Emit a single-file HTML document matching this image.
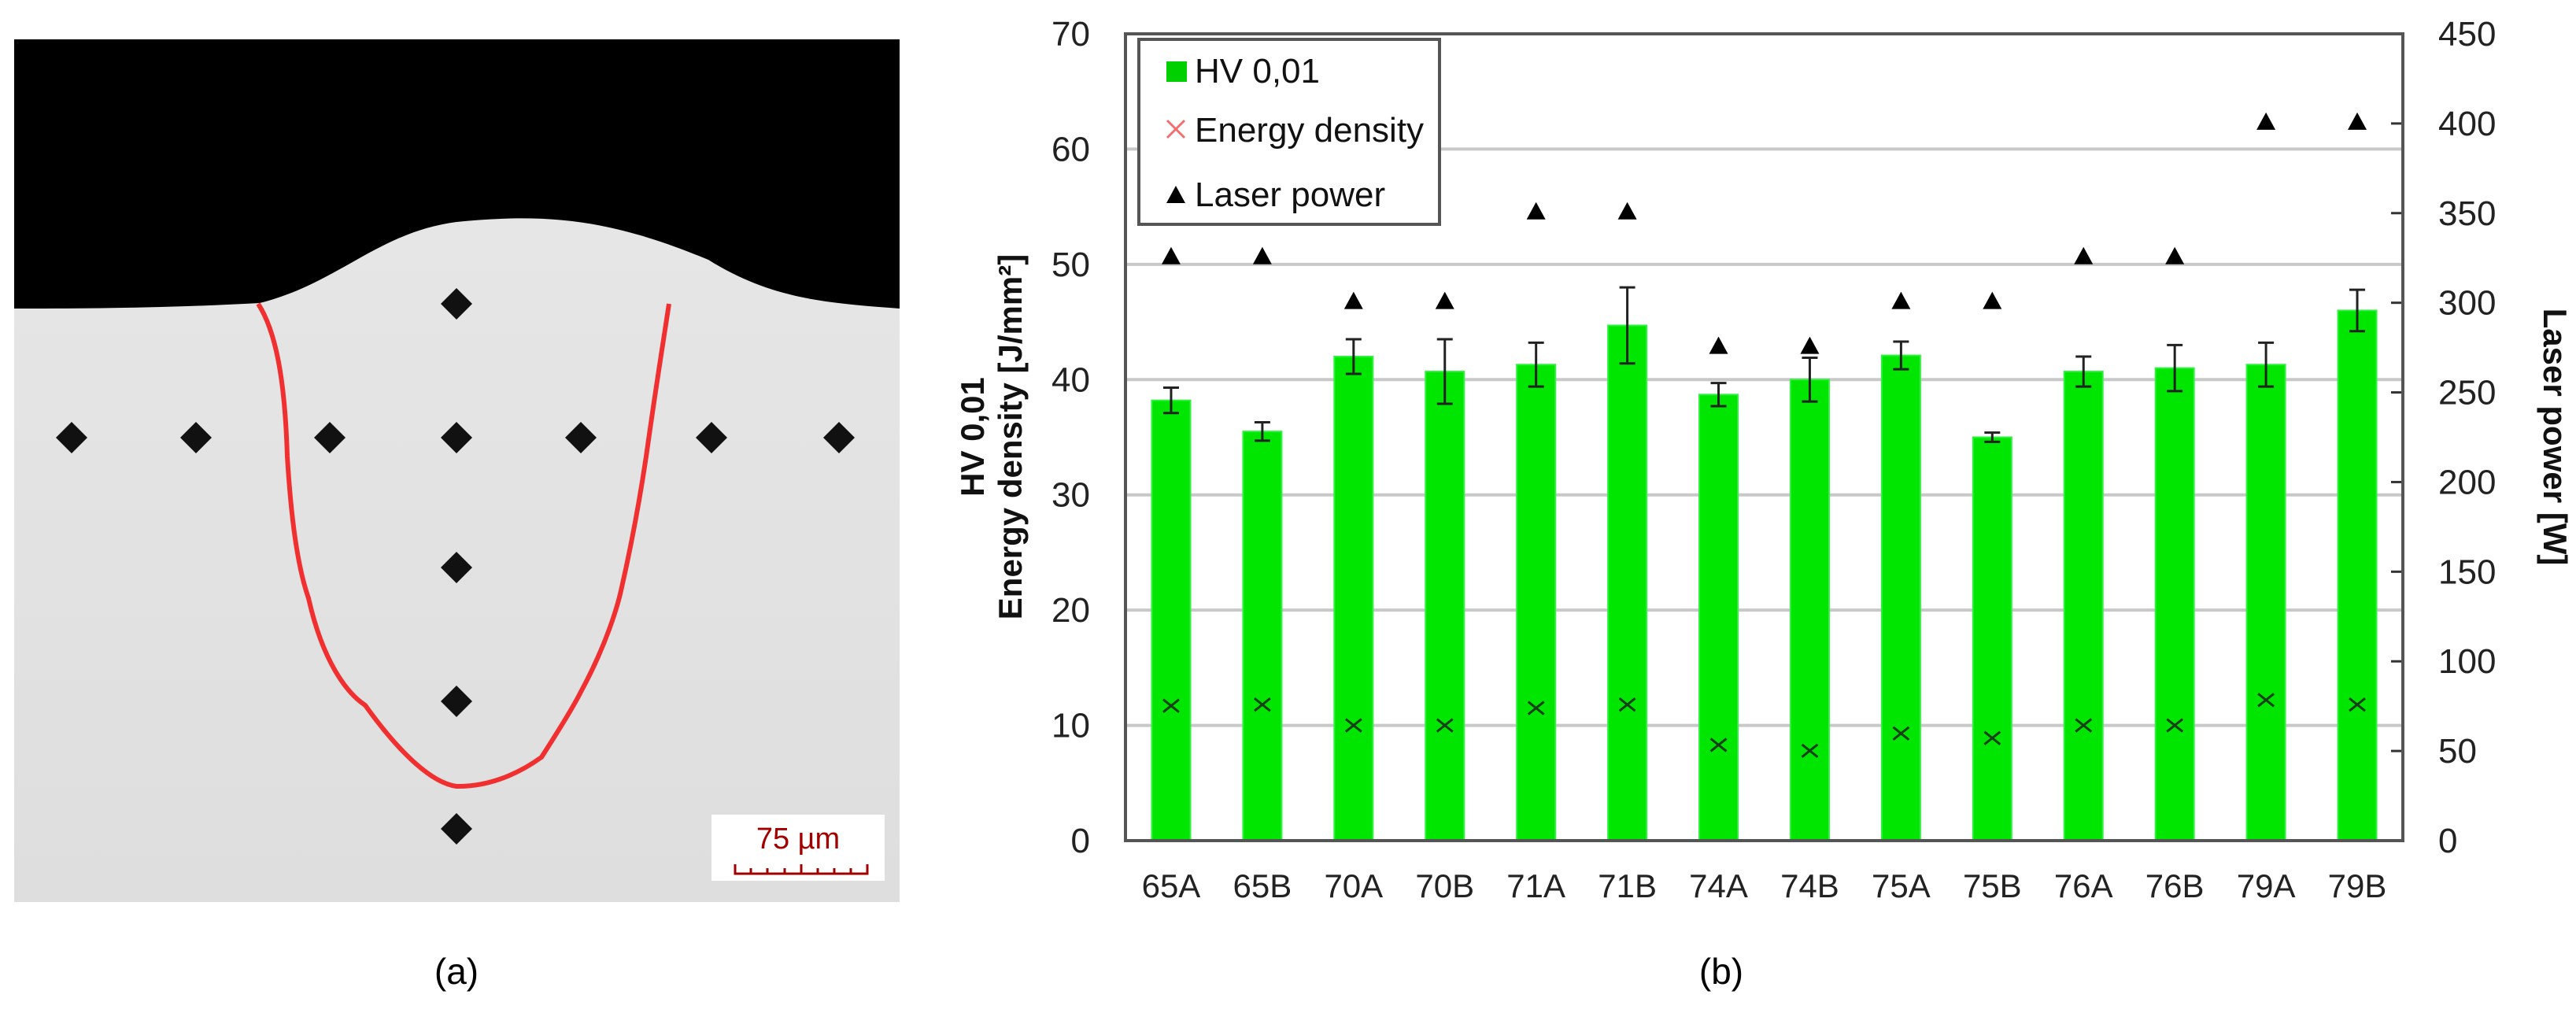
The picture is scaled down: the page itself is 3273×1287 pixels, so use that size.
<!DOCTYPE html>
<html><head><meta charset="utf-8"><style>
body{margin:0;background:#fff;width:3273px;height:1287px;overflow:hidden;font-family:"Liberation Sans",sans-serif}
svg{position:absolute;left:0;top:0}
</style></head><body>
<svg width="3273" height="1287" xmlns="http://www.w3.org/2000/svg">
<defs>
<linearGradient id="sub" x1="0" y1="0" x2="0" y2="1">
<stop offset="0" stop-color="#d0d0d0"/><stop offset="0.2" stop-color="#e6e6e6"/><stop offset="1" stop-color="#dedede"/>
</linearGradient>
</defs>
<g>
<rect x="18" y="50" width="1125" height="1096" fill="url(#sub)"/>
<path d="M18 50 H1143 V392 C1050 385 980 380 900 330 C780 280 700 270 580 282 C480 295 430 360 330 385 C200 392 100 392 18 392 Z" fill="#000"/>
<g fill="#111">
<path d="M91 536 l20 20 -20 20 -20 -20z"/><path d="M249 536 l20 20 -20 20 -20 -20z"/><path d="M419 536 l20 20 -20 20 -20 -20z"/><path d="M580 536 l20 20 -20 20 -20 -20z"/><path d="M738 536 l20 20 -20 20 -20 -20z"/><path d="M904 536 l20 20 -20 20 -20 -20z"/><path d="M1066 536 l20 20 -20 20 -20 -20z"/>
<path d="M580 366 l20 20 -20 20 -20 -20z"/><path d="M580 701 l20 20 -20 20 -20 -20z"/><path d="M580 871 l20 20 -20 20 -20 -20z"/><path d="M580 1033 l20 20 -20 20 -20 -20z"/>
</g>
<path d="M328 386 C350 420 362 480 365 580 C370 660 378 720 392 760 C410 840 440 880 464 896 C510 960 550 995 580 999 C630 1000 670 975 688 962 C715 920 730 895 738 879 C770 820 785 770 790 746 C805 680 815 620 821 580 C835 480 845 420 850 386" fill="none" stroke="#f03030" stroke-width="6"/>
<rect x="904" y="1035" width="220" height="84" fill="#fff"/>
<text x="1014" y="1078" text-anchor="middle" font-size="38" fill="#a00000" font-family="Liberation Sans, sans-serif">75 µm</text>
<path d="M934 1098 v12 h168 v-12 M954 1103v7 M975 1103v7 M997 1103v7 M1018 1098v12 M1039 1103v7 M1060 1103v7 M1081 1103v7" stroke="#a00000" stroke-width="3" fill="none"/>
</g>
<text x="580" y="1250" text-anchor="middle" font-size="46" fill="#000">(a)</text>
<text x="2187" y="1250" text-anchor="middle" font-size="46" fill="#000">(b)</text>
<g id="chart"></g>
</svg>
<script>
const categories=["65A","65B","70A","70B","71A","71B","74A","74B","75A","75B","76A","76B","79A","79B"];
const hv=[38.2,35.5,42,40.7,41.3,44.7,38.7,40,42.1,35,40.7,41,41.3,46];
const hvErr=[1.1,0.8,1.5,2.8,1.9,3.3,1,1.9,1.2,0.4,1.3,2,1.9,1.8];
const energy=[11.7,11.8,10,10,11.5,11.8,8.3,7.8,9.3,8.9,10,10,12.2,11.8];
const power=[325,325,300,300,350,350,275,275,300,300,325,325,400,400];
const leftTicks=[0,10,20,30,40,50,60,70];
const rightTicks=[0,50,100,150,200,250,300,350,400,450];
const NS="http://www.w3.org/2000/svg";
const g=document.getElementById('chart');
const X0=1430,X1=3053,Y0=1068,YT=43;
const yL=v=>Y0-(v/70)*(Y0-YT);
const yR=v=>Y0-(v/450)*(Y0-YT);
const step=(X1-X0)/categories.length;
const xC=i=>X0+step*(i+0.5);
function mk(t,a,txt){const e=document.createElementNS(NS,t);for(const k in a)e.setAttribute(k,a[k]);if(txt!==undefined)e.textContent=txt;g.appendChild(e);return e;}
leftTicks.forEach(v=>{
 if(v>0&&v<70){const l=mk('line',{x1:X0,x2:X1,y1:yL(v),y2:yL(v),stroke:'#c8c8c8','stroke-width':4});
 
 }
 const t=mk('text',{x:X0-45,y:yL(v)+15,'text-anchor':'end','font-size':44,fill:'#222'},v);
 
 
});
rightTicks.forEach(v=>{
 const l=mk('line',{x1:X1-15,x2:X1,y1:yR(v),y2:yR(v),stroke:'#333','stroke-width':3});
 
 
 const t=mk('text',{x:X1+45,y:yR(v)+15,'font-size':44,fill:'#222'},v);
 
 
});
categories.forEach((c,i)=>{
 const x=xC(i),w=49;
 const b=mk('rect',{x:x-w/2,y:yL(hv[i]),width:w,height:Y0-yL(hv[i]),fill:'#00e600',stroke:'#30f040','stroke-width':2});
 
 
 const e=mk('path',{d:`M${x} ${yL(hv[i]-hvErr[i])}V${yL(hv[i]+hvErr[i])}M${x-10} ${yL(hv[i]+hvErr[i])}h20M${x-10} ${yL(hv[i]-hvErr[i])}h20`,stroke:'#222','stroke-width':3,fill:'none'});
 
 
 const ey=yL(energy[i]);
 const m=mk('path',{d:`M${x-10} ${ey-8}L${x+10} ${ey+8}M${x-10} ${ey+8}L${x+10} ${ey-8}`,stroke:'#154015','stroke-width':3});
 
 
 const py=yR(power[i]);
 const p=mk('path',{d:`M${x} ${py-14}L${x+12} ${py+8}L${x-12} ${py+8}Z`,fill:'#000'});
 
 
 const t=mk('text',{x:x,y:1140,'text-anchor':'middle','font-size':42,fill:'#222'},c);
 
 
});
const frame=mk('rect',{x:X0,y:YT,width:X1-X0,height:Y0-YT,fill:'none',stroke:'#555','stroke-width':4});


const lg=mk('rect',{x:1447,y:50,width:382,height:235,fill:'#fff',stroke:'#555','stroke-width':4});


const l1=mk('rect',{x:1482,y:78,width:26,height:26,fill:'#00d000'});


const l2=mk('path',{d:'M1483 153l22 22M1483 175l22-22',stroke:'#f07070','stroke-width':3});


const l3=mk('path',{d:'M1494 236l12 22h-24z',fill:'#000'});


[["HV 0,01",105],["Energy density",180],["Laser power",262]].forEach(([s,y])=>{
 const t=mk('text',{x:1518,y:y,'font-size':44,fill:'#111'},s);
 
 
});
const t1=mk('text',{x:0,y:0,'font-size':42,'font-weight':'bold','text-anchor':'middle',transform:'translate(1250,555) rotate(-90)',fill:'#111'},'HV 0,01');


const t2=mk('text',{x:0,y:0,'font-size':42,'font-weight':'bold','text-anchor':'middle',transform:'translate(1298,555) rotate(-90)',fill:'#111'},'Energy density [J/mm²]');


const t3=mk('text',{x:0,y:0,'font-size':42,'font-weight':'bold','text-anchor':'middle',transform:'translate(3232,555) rotate(90)',fill:'#111'},'Laser power [W]');


</script>
</body></html>
